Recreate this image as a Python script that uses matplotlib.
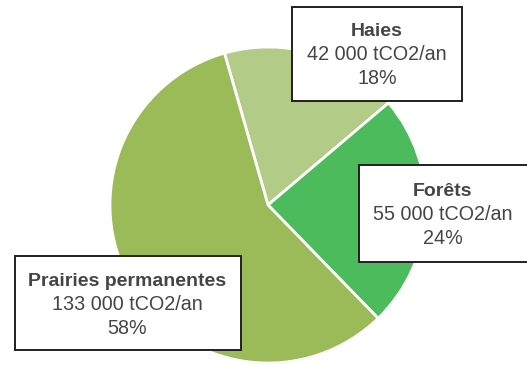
import matplotlib.pyplot as plt
from matplotlib.patches import Rectangle

plt.rcParams['font.family'] = ['Liberation Sans', 'DejaVu Sans']

# stockage annuel de carbone par type de surface
labels = ["Haies", "Forêts", "Prairies permanentes"]
stocks = [42000, 55000, 133000]
values_txt = ["42 000 tCO2/an", "55 000 tCO2/an", "133 000 tCO2/an"]
colors = ["#b2cc88", "#4cbb5c", "#9bbb59"]

fig = plt.figure(figsize=(5.27, 3.65), dpi=100)
ax = fig.add_axes([0, 0, 1, 1])
ax.set_xlim(0, 527)
ax.set_ylim(0, 365)
ax.set_aspect("equal")
ax.axis("off")

wedges, _ = ax.pie(stocks, colors=colors, startangle=106, counterclock=False,
                   center=(268, 160), radius=158,
                   wedgeprops=dict(edgecolor="white", linewidth=2))
ax.set_xlim(0, 527)
ax.set_ylim(0, 365)

total = sum(stocks)
pcts = [f"{round(v / total * 100)}%" for v in stocks]

# boites d'etiquettes (x0, y0, largeur, hauteur) et centre du texte
boxes = [(292, 264, 170, 94), (359, 103, 190, 97), (15, 15, 226, 94)]
text_pos = [(377, 333), (443, 173), (127, 83)]

for lab, val, pct, (bx, by, bw, bh), (tx, ty) in zip(labels, values_txt, pcts, boxes, text_pos):
    ax.add_patch(Rectangle((bx, by), bw, bh, facecolor="white",
                           edgecolor="#202020", linewidth=1.4, zorder=3))
    ax.text(tx, ty, lab, ha="center", va="center", fontsize=14,
            fontweight="bold", color="#454545", zorder=4)
    ax.text(tx, ty - 23, val, ha="center", va="center", fontsize=14.2,
            color="#454545", zorder=4)
    ax.text(tx, ty - 46, pct, ha="center", va="center", fontsize=14.2,
            color="#454545", zorder=4)

fig.savefig("out.png", dpi=100)
